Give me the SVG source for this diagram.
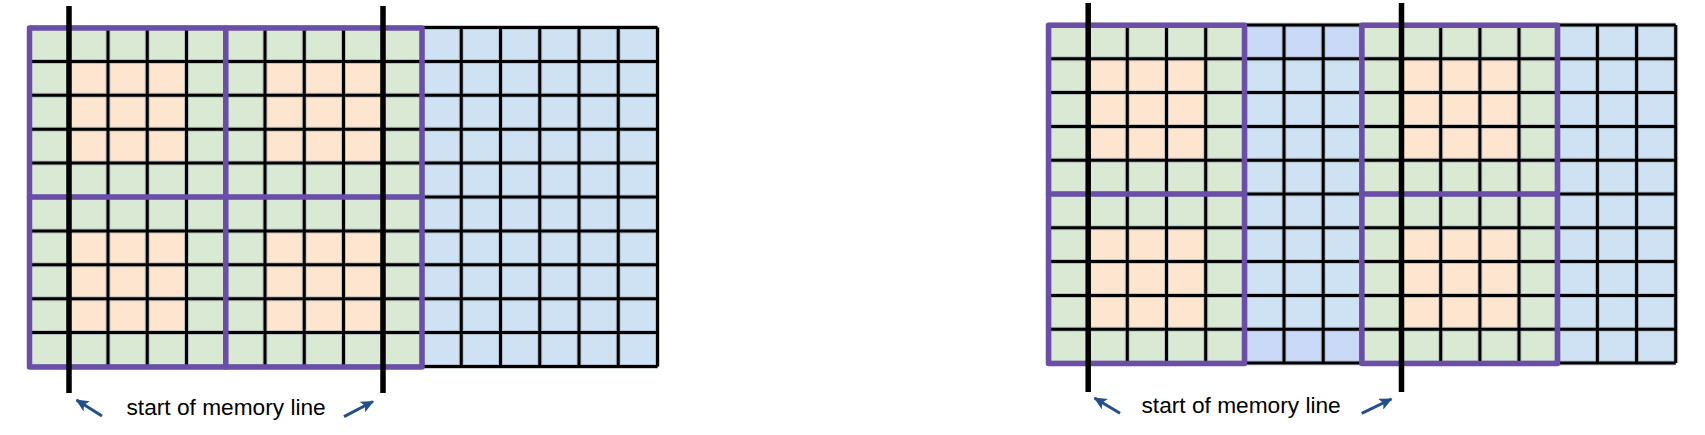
<svg xmlns="http://www.w3.org/2000/svg" width="1705" height="435" viewBox="0 0 1705 435">
<style>
.g{fill:#d9e9d3}.o{fill:#fde5cf}.b{fill:#cfe2f3}.d{fill:#c9d9f7}
.gridu{fill:none;stroke:#8d9ba8;stroke-width:5}
.grid{fill:none;stroke:#000;stroke-width:3}
.frame{fill:none;stroke:#6b4fa7;stroke-width:5.5;stroke-linejoin:round;stroke-linecap:round}
.mem{stroke:#000;stroke-width:5.5}
.lbl{font-family:"Liberation Sans",Arial,sans-serif;font-size:22.7px;fill:#000}
.arr{stroke:#24508a;stroke-width:3;fill:none;marker-end:url(#ah)}
</style>
<defs>
<marker id="ah" markerUnits="userSpaceOnUse" markerWidth="14" markerHeight="12" refX="12" refY="6" orient="auto">
<path d="M0,0 L13,6 L0,12 L3,6 z" fill="#24508a"/>
</marker>
</defs>
<rect width="1705" height="435" fill="#fff"/>
<g id="left-grid">
<rect class="g" x="29.5" y="27.5" width="392.5" height="339"/>
<rect class="o" x="68.75" y="61.4" width="117.75" height="101.7"/>
<rect class="o" x="265" y="61.4" width="117.75" height="101.7"/>
<rect class="o" x="68.75" y="230.9" width="117.75" height="101.7"/>
<rect class="o" x="265" y="230.9" width="117.75" height="101.7"/>
<rect class="b" x="422" y="27.5" width="235.5" height="339"/>
<path class="gridu" d="M29.5,27.5V366.5M68.75,27.5V366.5M108,27.5V366.5M147.25,27.5V366.5M186.5,27.5V366.5M225.75,27.5V366.5M265,27.5V366.5M304.25,27.5V366.5M343.5,27.5V366.5M382.75,27.5V366.5M422,27.5V366.5M461.25,27.5V366.5M500.5,27.5V366.5M539.75,27.5V366.5M579,27.5V366.5M618.25,27.5V366.5M657.5,27.5V366.5M29.5,27.5H657.5M29.5,61.4H657.5M29.5,95.3H657.5M29.5,129.2H657.5M29.5,163.1H657.5M29.5,197H657.5M29.5,230.9H657.5M29.5,264.8H657.5M29.5,298.7H657.5M29.5,332.6H657.5M29.5,366.5H657.5" opacity="0.5"/>
<path class="grid" d="M29.5,27.5V366.5M68.75,27.5V366.5M108,27.5V366.5M147.25,27.5V366.5M186.5,27.5V366.5M225.75,27.5V366.5M265,27.5V366.5M304.25,27.5V366.5M343.5,27.5V366.5M382.75,27.5V366.5M422,27.5V366.5M461.25,27.5V366.5M500.5,27.5V366.5M539.75,27.5V366.5M579,27.5V366.5M618.25,27.5V366.5M657.5,27.5V366.5M29.5,27.5H657.5M29.5,61.4H657.5M29.5,95.3H657.5M29.5,129.2H657.5M29.5,163.1H657.5M29.5,197H657.5M29.5,230.9H657.5M29.5,264.8H657.5M29.5,298.7H657.5M29.5,332.6H657.5M29.5,366.5H657.5"/>
</g>
<g id="left-tiles">
<rect class="frame" x="29.5" y="28" width="392.5" height="339"/>
<path class="frame" d="M225.75,28V367M29.5,197H422"/>
</g>
<g id="left-memory-lines">
<line class="mem" x1="69" y1="6" x2="69" y2="393"/>
<line class="mem" x1="383" y1="6" x2="383" y2="393"/>
</g>
<g id="left-label">
<text class="lbl" x="126.5" y="415">start of memory line</text>
</g>
<g id="right-grid">
<rect class="g" x="1049" y="25" width="195.9" height="338"/>
<rect class="g" x="1362.4" y="25" width="195.8" height="338"/>
<rect class="o" x="1088.2" y="58.8" width="117.5" height="101.4"/>
<rect class="o" x="1088.2" y="227.8" width="117.5" height="101.4"/>
<rect class="o" x="1401.5" y="58.8" width="117.5" height="101.4"/>
<rect class="o" x="1401.5" y="227.8" width="117.5" height="101.4"/>
<rect class="b" x="1244.9" y="25" width="117.5" height="338"/>
<rect class="d" x="1244.9" y="25" width="117.5" height="33.8"/>
<rect class="d" x="1244.9" y="329.2" width="117.5" height="33.8"/>
<rect class="b" x="1558.2" y="25" width="117.5" height="338"/>
<path class="gridu" opacity="0.5" d="M1049,25V363M1088.2,25V363M1127.3,25V363M1166.5,25V363M1205.7,25V363M1244.9,25V363M1284,25V363M1323.2,25V363M1362.4,25V363M1401.5,25V363M1440.7,25V363M1479.9,25V363M1519,25V363M1558.2,25V363M1597.4,25V363M1636.6,25V363M1675.7,25V363M1049,25H1675.7M1049,58.8H1675.7M1049,92.6H1675.7M1049,126.4H1675.7M1049,160.2H1675.7M1049,194H1675.7M1049,227.8H1675.7M1049,261.6H1675.7M1049,295.4H1675.7M1049,329.2H1675.7M1049,363H1675.7"/>
<path class="grid" d="M1049,25V363M1088.2,25V363M1127.3,25V363M1166.5,25V363M1205.7,25V363M1244.9,25V363M1284,25V363M1323.2,25V363M1362.4,25V363M1401.5,25V363M1440.7,25V363M1479.9,25V363M1519,25V363M1558.2,25V363M1597.4,25V363M1636.6,25V363M1675.7,25V363M1049,25H1675.7M1049,58.8H1675.7M1049,92.6H1675.7M1049,126.4H1675.7M1049,160.2H1675.7M1049,194H1675.7M1049,227.8H1675.7M1049,261.6H1675.7M1049,295.4H1675.7M1049,329.2H1675.7M1049,363H1675.7"/>
</g>
<g id="right-tiles">
<rect class="frame" x="1048.5" y="25.3" width="196" height="338.2"/>
<path class="frame" d="M1048.5,194H1244.5"/>
<rect class="frame" x="1361.8" y="25.3" width="195.6" height="338.2"/>
<path class="frame" d="M1361.8,194H1557.4"/>
</g>
<g id="right-memory-lines">
<line class="mem" x1="1088.2" y1="3" x2="1088.2" y2="392"/>
<line class="mem" x1="1401.5" y1="3" x2="1401.5" y2="392"/>
</g>
<g id="right-label">
<text class="lbl" x="1141.5" y="412.5">start of memory line</text>
</g>
<g id="connectors">
<line class="arr" x1="102" y1="416" x2="76.5" y2="400"/>
<line class="arr" x1="344" y1="416.7" x2="373" y2="401.5"/>
<line class="arr" x1="1120" y1="413.3" x2="1094.5" y2="398"/>
<line class="arr" x1="1361.7" y1="413.3" x2="1391.5" y2="399"/>
</g>
</svg>
